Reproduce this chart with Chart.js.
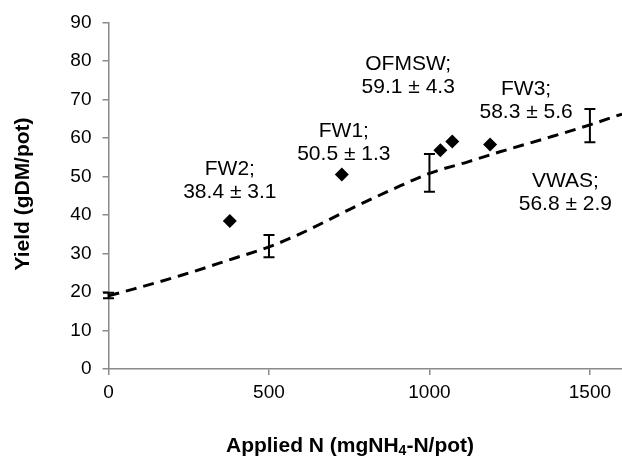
<!DOCTYPE html>
<html>
<head>
<meta charset="utf-8">
<script src="https://cdn.jsdelivr.net/npm/chart.js@4.4.1/dist/chart.umd.min.js"></script>
<style>
    html, body { margin: 0; padding: 0; background: #fff; }
    #wrap { width: 622px; height: 458px; position: relative; }
</style>
</head>
<body>
<div id="wrap"><canvas id="yieldChart"></canvas></div>
<script>
// Axis ticks
const xTicks = [0, 500, 1000, 1500];
const yTicks = [0, 10, 20, 30, 40, 50, 60, 70, 80, 90];

// Organic amendments (diamonds)
const amendNames = ['FW2', 'FW1', 'VWAS', 'OFMSW', 'FW3'];
const amendN = [378, 727, 1034, 1071, 1189];
const amendYield = [38.4, 50.5, 56.8, 59.1, 58.3];
const amendSd = [3.1, 1.3, 2.9, 4.3, 5.6];

// Mineral N reference: mean and error bar half-height
const mineralN = [0, 500, 1000, 1500];
const mineralYield = [19.1, 31.9, 50.9, 63.2];
const mineralErr = [0.7, 2.9, 4.9, 4.3];

// Dashed response curve
const curveN = [0, 80, 230, 390, 500, 600, 750, 910, 1000, 1120, 1220, 1375, 1500, 1600];
const curveYield = [19.0, 20.8, 24.4, 28.7, 31.7, 35.2, 41.4, 47.6, 50.8, 53.8, 56.4, 60.2, 63.4, 66.2];

const FONT = "'Liberation Sans', Arial, sans-serif";
const AXIS_GREY = '#8a8a8a';

// label placement relative to each diamond (px, centre of 2nd line)
const labelOffsets = [[0, -29], [2, -20], [125, 54], [-44, -54], [36, -32]];

const extras = {
    id: 'extras',
    afterDatasetsDraw(chart) {
        const { ctx, scales: { x, y } } = chart;
        ctx.save();
        ctx.strokeStyle = '#000';
        ctx.lineWidth = 2;
        mineralN.forEach((n, i) => {
            const px = x.getPixelForValue(n);
            const top = y.getPixelForValue(mineralYield[i] + mineralErr[i]);
            const bot = y.getPixelForValue(mineralYield[i] - mineralErr[i]);
            ctx.beginPath();
            ctx.moveTo(px, top); ctx.lineTo(px, bot);
            ctx.moveTo(px - 5.5, top); ctx.lineTo(px + 5.5, top);
            ctx.moveTo(px - 5.5, bot); ctx.lineTo(px + 5.5, bot);
            ctx.stroke();
        });
        ctx.restore();
    },
    afterDraw(chart) {
        const { ctx, scales: { x, y } } = chart;
        ctx.save();
        ctx.fillStyle = '#000';
        ctx.textAlign = 'center';
        ctx.textBaseline = 'middle';
        ctx.font = '21px ' + FONT;
        amendNames.forEach((name, i) => {
            const px = x.getPixelForValue(amendN[i]) + labelOffsets[i][0];
            const py = y.getPixelForValue(amendYield[i]) + labelOffsets[i][1];
            ctx.fillText(name + ';', px, py - 23);
            ctx.fillText(amendYield[i].toFixed(1) + ' \u00b1 ' + amendSd[i].toFixed(1), px, py);
        });

        // y axis title
        ctx.font = 'bold 21px ' + FONT;
        ctx.save();
        ctx.translate(23, 194);
        ctx.rotate(-Math.PI / 2);
        ctx.fillText('Yield (gDM/pot)', 0, 0);
        ctx.restore();

        // x axis title with subscript
        const parts = [['Applied N (mgNH', 'bold 21px ', 0], ['4', 'bold 14px ', 5], ['-N/pot)', 'bold 21px ', 0]];
        let total = 0;
        parts.forEach(p => { ctx.font = p[1] + FONT; total += ctx.measureText(p[0]).width; });
        let cx = 350 - total / 2;
        ctx.textAlign = 'left';
        parts.forEach(p => {
            ctx.font = p[1] + FONT;
            ctx.fillText(p[0], cx, 446 + p[2]);
            cx += ctx.measureText(p[0]).width;
        });
        ctx.restore();
    }
};

const ctx = document.getElementById('yieldChart');
new Chart(ctx, {
    type: 'scatter',
    data: {
        datasets: [{
            label: 'Amendments',
            data: amendN.map((n, i) => ({ x: n, y: amendYield[i] })),
            pointStyle: 'rectRot',
            pointRadius: 7,
            backgroundColor: '#000',
            borderColor: '#000',
            borderWidth: 0,
            order: 1
        }, {
            label: 'Mineral N response',
            type: 'line',
            data: curveN.map((n, i) => ({ x: n, y: curveYield[i] })),
            borderColor: '#000',
            borderWidth: 3,
            borderDash: [11, 7],
            pointRadius: 0,
            cubicInterpolationMode: 'monotone',
            fill: false,
            order: 2
        }]
    },
    options: {
        responsive: true,
        maintainAspectRatio: false,
        animation: false,
        layout: { autoPadding: false, padding: { top: 22, right: 0, left: 0, bottom: 0 } },
        plugins: { legend: { display: false }, tooltip: { enabled: false } },
        scales: {
            x: {
                type: 'linear',
                min: 0,
                max: 1600,
                afterBuildTicks: s => { s.ticks = xTicks.map(v => ({ value: v })); },
                afterFit: s => { s.height = 89; s.paddingRight = 0; },
                ticks: { font: { family: FONT, size: 19 }, color: '#000', padding: 6, callback: v => String(v) },
                grid: { drawOnChartArea: false, tickLength: 6, color: AXIS_GREY, lineWidth: 1.5 },
                border: { color: AXIS_GREY, width: 1.5 }
            },
            y: {
                min: 0,
                max: 90,
                afterBuildTicks: s => { s.ticks = yTicks.map(v => ({ value: v })); },
                afterFit: s => { s.width = 108.5; },
                ticks: { font: { family: FONT, size: 19 }, color: '#000', padding: 11 },
                grid: { drawOnChartArea: false, tickLength: 6, color: AXIS_GREY, lineWidth: 1.5 },
                border: { color: AXIS_GREY, width: 1.5 }
            }
        }
    },
    plugins: [extras]
});
</script>
</body>
</html>
